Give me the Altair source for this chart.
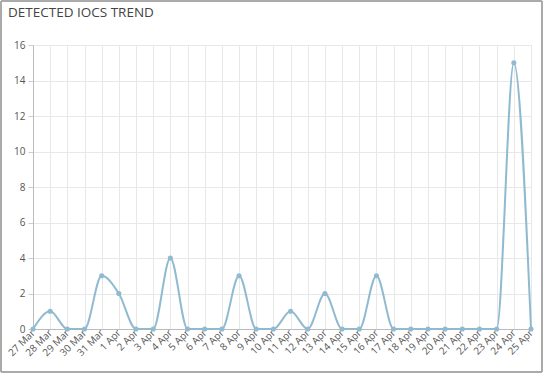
import altair as alt
import pandas as pd

dates = ["27 Mar", "28 Mar", "29 Mar", "30 Mar", "31 Mar", "1 Apr", "2 Apr", "3 Apr",
         "4 Apr", "5 Apr", "6 Apr", "7 Apr", "8 Apr", "9 Apr", "10 Apr", "11 Apr",
         "12 Apr", "13 Apr", "14 Apr", "15 Apr", "16 Apr", "17 Apr", "18 Apr", "19 Apr",
         "20 Apr", "21 Apr", "22 Apr", "23 Apr", "24 Apr", "25 Apr"]
counts = [0, 1, 0, 0, 3, 2, 0, 0, 4, 0, 0, 0, 3, 0, 0, 1, 0, 2, 0, 0, 3, 0, 0, 0,
          0, 0, 0, 0, 15, 0]
y_ticks = [0, 2, 4, 6, 8, 10, 12, 14, 16]
title_text = "DETECTED IOCS TREND"

df = pd.DataFrame({"date": dates, "count": counts})

FONT = "Open Sans"
LINE = "#90bad0"

x = alt.X("date:N", sort=dates, scale=alt.Scale(type="point", padding=0),
          axis=alt.Axis(title=None, labelAngle=-45, labelAlign="right", labelBaseline="middle",
                        labelFontSize=10, labelColor="#555", labelFont=FONT, labelPadding=2,
                        tickSize=0, domainColor="#bbb", gridColor="#e8e8e8", grid=True,
                        labelOverlap=False))
y = alt.Y("count:Q", scale=alt.Scale(domain=[0, 16], nice=False),
          axis=alt.Axis(title=None, values=y_ticks, labelFontSize=10, labelColor="#555",
                        labelFont=FONT, tickSize=5, tickColor="#ccc", labelPadding=3,
                        domainColor="#bbb", gridColor="#e8e8e8"))

line = alt.Chart(df).mark_line(interpolate="monotone", color=LINE, strokeWidth=2).encode(x=x, y=y)
pts = alt.Chart(df).mark_circle(color=LINE, size=26, opacity=1).encode(x=x, y=y)

border = alt.Chart(df).mark_rect(fill=None, stroke="#aaaaaa", strokeWidth=1.5,
                                 cornerRadius=2, clip=False).encode(
    x=alt.value(-32), x2=alt.value(509), y=alt.value(-44), y2=alt.value(327))

title = alt.Chart(pd.DataFrame({"t": [title_text]})).mark_text(
    align="left", baseline="alphabetic", font=FONT, fontSize=13.5, color="#444"
).encode(text="t:N", x=alt.value(-25), y=alt.value(-28))

chart = alt.layer(border, line, pts, title).properties(
    width=498, height=284,
    autosize=alt.AutoSizeParams(type="none"),
    padding={"left": 33, "top": 45, "right": 14, "bottom": 45},
).configure_view(stroke=None).configure(background="white")

chart.save("out.html", embed_options={"renderer": "svg", "actions": False})
